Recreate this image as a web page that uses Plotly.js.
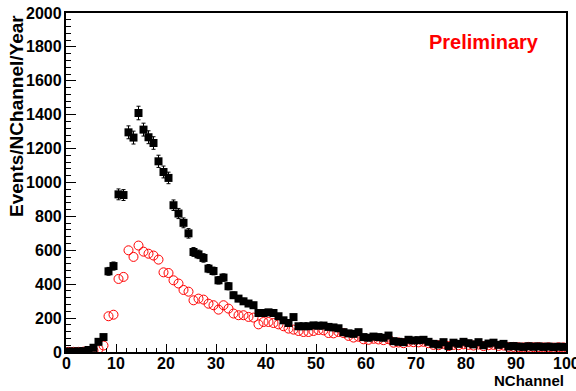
<!DOCTYPE html>
<html>
<head>
<meta charset="utf-8">
<script src="https://cdn.plot.ly/plotly-3.0.1.min.js"></script>
<style>html,body{margin:0;padding:0;background:#fff;}#chart{width:576px;height:391px;}</style>
</head>
<body>
<div id="chart"></div>
<script>
// bin centres 0.5 .. 99.5
const binCenters = [];
for (let i = 0; i < 100; i++) binCenters.push(i + 0.5);

// black filled squares
const dataA = [3,3,4,5,12,25,60,88,476,507,
  930,926,1296,1265,1410,1312,1267,1233,1125,1062,
  1027,866,817,762,700,590,576,555,492,478,
  423,439,388,335,315,299,286,276,230,230,
  234,230,211,187,171,206,152,152,152,157,
  155,156,148,145,140,117,110,107,117,88,
  84,91,88,84,97,64,60,58,72,68,
  70,72,60,48,44,58,35,55,48,60,
  52,45,58,40,50,55,42,48,33,35,
  32,30,34,31,33,30,32,29,31,30];

const errA = [2,2,2,3,4,6,9,11,23,24,
  32,32,38,38,40,38,38,37,36,35,
  34,31,30,29,28,26,25,25,24,23,
  22,22,21,19,18,18,17,17,16,16,
  16,16,15,14,14,15,13,13,13,13,
  13,13,13,12,12,11,11,11,11,10,
  10,10,10,10,10,8,8,8,9,9,
  9,9,8,7,7,8,6,8,7,8,
  8,7,8,7,7,8,7,7,6,6,
  6,6,6,6,6,6,6,6,6,6];

// red open circles
const dataB = [1,1,1,2,3,8,18,38,211,220,
  431,443,600,561,628,592,580,569,545,470,
  466,423,404,366,356,305,315,309,285,276,
  250,276,256,227,217,217,207,203,163,177,
  177,171,163,152,138,132,124,118,118,124,
  130,128,112,110,118,112,95,85,90,75,
  72,78,74,70,76,55,56,52,60,58,
  57,60,52,42,40,48,35,42,40,45,
  42,38,44,35,40,42,36,38,30,30,
  28,27,30,28,29,27,28,26,28,27];

const xTickVals = [0,10,20,30,40,50,60,70,80,90,100];
const yTickVals = [0,200,400,600,800,1000,1200,1400,1600,1800,2000];

const FONT = 'Liberation Sans, Arial, Helvetica, sans-serif';

const traces = [
  {
    x: binCenters, y: dataB, type: 'scatter', mode: 'markers',
    marker: {symbol: 'circle-open', size: 9, color: '#ff0000', line: {width: 1, color: '#ff0000'}},
    hoverinfo: 'skip', showlegend: false
  },
  {
    x: binCenters, y: dataA, type: 'scatter', mode: 'markers',
    marker: {symbol: 'square', size: 8, color: '#000000'},
    error_y: {type: 'data', array: errA, visible: true, color: '#000000', thickness: 1, width: 2},
    hoverinfo: 'skip', showlegend: false
  }
];

const axisCommon = {
  showgrid: false, zeroline: false,
  showline: true, linecolor: '#000', linewidth: 2, mirror: true,
  ticks: 'inside', tickcolor: '#000', tickwidth: 1,
  showticklabels: false
};

// bold tick labels placed on the axes' own scales
const tickAnnots = [];
xTickVals.forEach(v => tickAnnots.push({
  text: '<b>' + v + '</b>', xref: 'x', yref: 'paper', x: v, y: 0,
  xanchor: 'center', yanchor: 'middle', yshift: -11, showarrow: false,
  font: {family: FONT, size: 16, color: '#000'}
}));
yTickVals.forEach(v => tickAnnots.push({
  text: '<b>' + v + '</b>', xref: 'paper', yref: 'y', x: 0, y: v,
  xanchor: 'right', yanchor: 'middle', xshift: -2, showarrow: false,
  font: {family: FONT, size: 16, color: '#000'}
}));

const layout = {
  width: 576, height: 391,
  margin: {l: 66, r: 10, t: 13, b: 39},
  paper_bgcolor: '#fff', plot_bgcolor: '#fff',
  xaxis: Object.assign({}, axisCommon, {
    range: [0, 100], tickmode: 'array', tickvals: xTickVals, ticklen: 8,
    minor: {ticks: 'inside', dtick: 2, ticklen: 4, tickcolor: '#000', tickwidth: 1}
  }),
  yaxis: Object.assign({}, axisCommon, {
    range: [0, 2000], tickmode: 'array', tickvals: yTickVals, ticklen: 10,
    minor: {ticks: 'inside', dtick: 40, ticklen: 5, tickcolor: '#000', tickwidth: 1}
  }),
  annotations: tickAnnots.concat([
    {text: '<b>Events/NChannel/Year</b>', xref: 'paper', yref: 'paper',
     x: -0.1, y: 1.0, xanchor: 'center', yanchor: 'top', textangle: -90, showarrow: false,
     font: {family: FONT, size: 19, color: '#000'}},
    {text: '<b>NChannel</b>', xref: 'paper', yref: 'paper',
     x: 1.0, y: -0.083, xanchor: 'right', yanchor: 'middle', showarrow: false,
     font: {family: FONT, size: 15, color: '#000'}},
    {text: '<b>Preliminary</b>', xref: 'paper', yref: 'paper',
     x: 0.835, y: 0.915, xanchor: 'center', yanchor: 'middle', showarrow: false,
     font: {family: FONT, size: 20, color: '#ff0000'}}
  ])
};

Plotly.newPlot('chart', traces, layout, {staticPlot: true, displayModeBar: false});
</script>
</body>
</html>
